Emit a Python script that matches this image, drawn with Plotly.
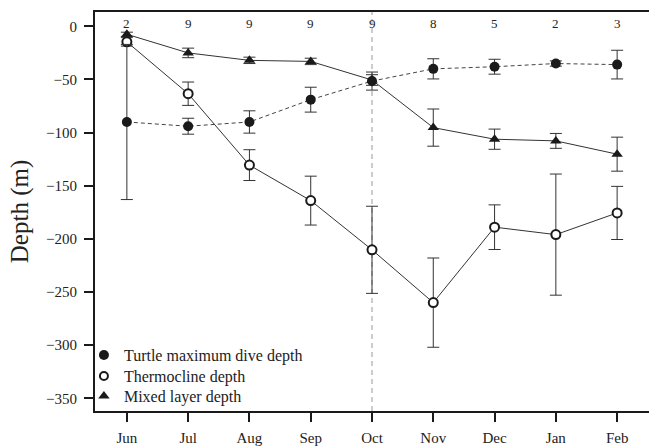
import plotly.graph_objects as go

months = ["Jun", "Jul", "Aug", "Sep", "Oct", "Nov", "Dec", "Jan", "Feb"]
sample_n = ["2", "9", "9", "9", "9", "8", "5", "2", "3"]

# Turtle maximum dive depth (m) and error
turtle_depth = [-90, -94, -90, -69, -51.5, -40, -38, -35, -36]
turtle_err = [73, 7.5, 10.5, 11.7, 8.5, 9.5, 7, 2.5, 13.5]

# Thermocline depth (m) and error
thermo_depth = [-14.6, -63.4, -130.6, -164, -210.3, -260, -189, -196, -175.6]
thermo_err = [4, 11, 14.5, 23, 41, 42, 21, 57, 25]

# Mixed layer depth (m) and error
mixed_depth = [-7.5, -25, -32, -33, -50.5, -95.3, -106.2, -107.8, -120.3]
mixed_err = [2, 4.5, 3, 3, 5, 17.5, 9.5, 7, 16]

x_idx = list(range(len(months)))
ink = "#1a1a1a"
err_col = "#333333"
serif = "Liberation Serif, Times New Roman, serif"

fig = go.Figure()

# Thermocline: open circles, solid line
fig.add_trace(go.Scatter(
    x=x_idx, y=thermo_depth, mode="lines+markers", showlegend=False,
    line=dict(color="#333333", width=1),
    marker=dict(symbol="circle", size=9, color="white", line=dict(color=ink, width=2)),
    error_y=dict(type="data", array=thermo_err, visible=True, color=err_col, thickness=1, width=6),
))

# Mixed layer: filled triangles, solid line
fig.add_trace(go.Scatter(
    x=x_idx, y=mixed_depth, mode="lines+markers", showlegend=False,
    line=dict(color="#333333", width=1),
    marker=dict(symbol="triangle-up", size=10, color=ink),
    error_y=dict(type="data", array=mixed_err, visible=True, color=err_col, thickness=1, width=6),
))

# Turtle maximum dive depth: filled circles, dashed line
fig.add_trace(go.Scatter(
    x=x_idx, y=turtle_depth, mode="lines+markers", showlegend=False,
    line=dict(color="#444444", width=1, dash="4px,3px"),
    marker=dict(symbol="circle", size=10, color=ink),
    error_y=dict(type="data", array=turtle_err, visible=True, color=err_col, thickness=1, width=6),
))

# Legend entries, one legend box per row so the rows sit close together
fig.add_trace(go.Scatter(x=[None], y=[None], mode="markers", name="Turtle maximum dive depth",
                         legend="legend",
                         marker=dict(symbol="circle", size=10, color=ink)))
fig.add_trace(go.Scatter(x=[None], y=[None], mode="markers", name="Thermocline depth",
                         legend="legend2",
                         marker=dict(symbol="circle", size=8, color="white", line=dict(color=ink, width=2))))
fig.add_trace(go.Scatter(x=[None], y=[None], mode="markers", name="Mixed layer depth",
                         legend="legend3",
                         marker=dict(symbol="triangle-up", size=10, color=ink)))

# Sample sizes along the top
for i, n in zip(x_idx, sample_n):
    fig.add_annotation(x=i, y=2.5, xref="x", yref="y", text=n, showarrow=False,
                       font=dict(family=serif, size=13, color="#222"))

# October reference line
fig.add_shape(type="line", x0=4, x1=4, y0=0, y1=1, xref="x", yref="paper",
              line=dict(color="#999999", width=1, dash="5px,4px"), layer="below")

legend_style = dict(x=-0.02, xanchor="left", yanchor="middle", bgcolor="rgba(0,0,0,0)",
                    font=dict(family=serif, size=16, color="#222"), itemwidth=30)

fig.update_layout(
    width=649, height=446,
    margin=dict(l=95, r=0, t=12, b=33),
    paper_bgcolor="white", plot_bgcolor="white",
    font=dict(family=serif, color="#222"),
    legend=dict(y=0.140, **legend_style),
    legend2=dict(y=0.0873, **legend_style),
    legend3=dict(y=0.0374, **legend_style),
    xaxis=dict(range=[-0.52, 8.52], tickvals=x_idx, ticktext=months,
               showgrid=False, zeroline=False, showline=True, linecolor=ink, linewidth=2,
               mirror=True, ticks="outside", ticklen=9, tickwidth=2, tickcolor=ink,
               ticklabelstandoff=3,
               tickfont=dict(family=serif, size=15, color="#222")),
    yaxis=dict(range=[-362, 13.5], tickvals=[0, -50, -100, -150, -200, -250, -300, -350],
               showgrid=False, zeroline=False, showline=True, linecolor=ink, linewidth=2,
               ticks="outside", ticklen=9, tickwidth=2, tickcolor=ink,
               ticklabelstandoff=4,
               tickfont=dict(family=serif, size=15, color="#222"),
               title=dict(text="Depth (m)", font=dict(family=serif, size=25, color="#222"), standoff=10)),
)

fig.write_html("out.html")
